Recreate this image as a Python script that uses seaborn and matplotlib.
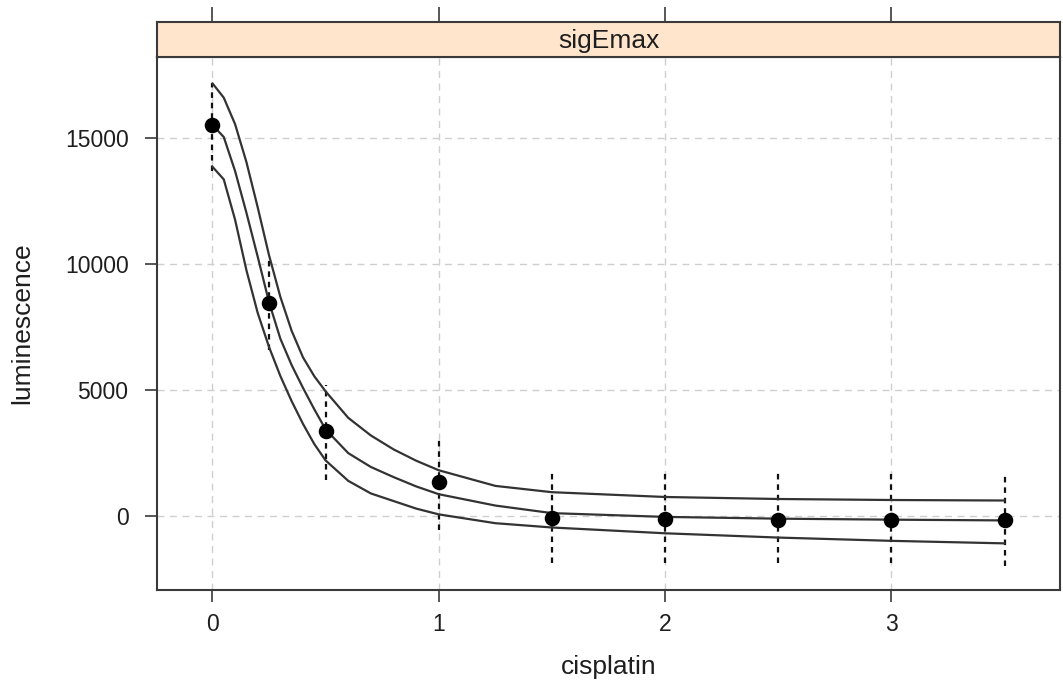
import numpy as np
import pandas as pd
import matplotlib
matplotlib.use("Agg")
import matplotlib.pyplot as plt
import seaborn as sns

# ---- data ----
dose = [0, 0.25, 0.5, 1, 1.5, 2, 2.5, 3, 3.5]
lumi = [15500, 8450, 3370, 1350, -80, -120, -160, -160, -160]
err_lo = [13700, 6600, 1430, -555, -1870, -1870, -1870, -1870, -1990]
err_hi = [17200, 10250, 5200, 3135, 1700, 1700, 1700, 1700, 1690]

curve_dose = [0, 0.05, 0.1, 0.15, 0.2, 0.25, 0.3, 0.35, 0.4, 0.45, 0.5,
              0.6, 0.7, 0.8, 0.9, 1.0, 1.25, 1.5, 2.0, 2.5, 3.0, 3.5]
curve_upper = [17170, 16600, 15550, 14050, 12250, 10350, 8700, 7350, 6300, 5550, 4950,
               3900, 3200, 2650, 2200, 1820, 1200, 950, 760, 680, 640, 620]
curve_fit = [15520, 15040, 13690, 12040, 10290, 8490, 7040, 5990, 5090, 4240, 3440,
             2500, 1950, 1550, 1180, 870, 420, 120, -30, -100, -140, -170]
curve_lower = [13860, 13360, 11760, 9760, 8060, 6710, 5560, 4560, 3660, 2860, 2210,
               1400, 900, 600, 300, 70, -280, -450, -680, -850, -980, -1080]

x_ticks = [0, 1, 2, 3]
y_ticks = [0, 5000, 10000, 15000]
panel_title = "sigEmax"
x_label = "cisplatin"
y_label = "luminescence"

# ---- style ----
sns.set_theme(style="ticks")
plt.rcParams["font.family"] = ["Liberation Sans", "DejaVu Sans"]

W, H = 1063, 689
fig = plt.figure(figsize=(W / 100, H / 100), dpi=100)
left, right, top_strip, top_panel, bottom = 157, 1060, 22, 57, 590
ax = fig.add_axes([left / W, 1 - bottom / H, (right - left) / W, (bottom - top_panel) / H])
strip = fig.add_axes([left / W, 1 - top_panel / H, (right - left) / W, (top_panel - top_strip) / H])

frame_col = "#3a3a3a"
line_col = "#333333"
text_col = "#1e1e1e"

# grid
for xv in x_ticks:
    ax.axvline(xv, color="#cfcfcf", lw=1.0, ls=(0, (5, 4)), zorder=0)
for yv in y_ticks:
    ax.axhline(yv, color="#cfcfcf", lw=1.0, ls=(0, (5, 4)), zorder=0)

# curves
curves = pd.DataFrame({
    "dose": curve_dose * 3,
    "value": curve_upper + curve_fit + curve_lower,
    "band": ["upper"] * len(curve_dose) + ["fit"] * len(curve_dose) + ["lower"] * len(curve_dose),
})
sns.lineplot(data=curves, x="dose", y="value", units="band", estimator=None,
             color=line_col, lw=1.6, ax=ax, zorder=3, sort=False)

# error bars
ax.vlines(dose, err_lo, err_hi, colors="#111111", lw=1.6, linestyles=(0, (2.5, 2.2)), zorder=2)

# points
pts = pd.DataFrame({"dose": dose, "lumi": lumi})
sns.scatterplot(data=pts, x="dose", y="lumi", color="black", s=125, edgecolor="black",
                linewidth=0, ax=ax, zorder=4)

ax.set_xlim(-0.245, 3.745)
ax.set_ylim(-2930, 18214)
ax.set_xticks(x_ticks)
ax.set_xticklabels([str(v) for v in x_ticks])
ax.set_yticks(y_ticks)
ax.set_yticklabels([str(v) for v in y_ticks])
ax.set_xlabel(x_label, fontsize=19, color=text_col, labelpad=14)
ax.set_ylabel(y_label, fontsize=19, color=text_col, labelpad=22)
ax.tick_params(axis="both", direction="out", length=8.5, width=1.2, color=frame_col,
               labelsize=16.5, labelcolor=text_col)
ax.tick_params(axis="x", pad=8, top=False)
ax.tick_params(axis="y", pad=12, right=False)
for sp in ax.spines.values():
    sp.set_visible(True)
    sp.set_color(frame_col)
    sp.set_linewidth(1.5)

# strip
strip.set_facecolor("#ffe5cc")
strip.set_xlim(ax.get_xlim())
strip.set_ylim(0, 1)
strip.set_yticks([])
strip.set_xticks(x_ticks)
strip.tick_params(axis="x", bottom=False, top=True, labelbottom=False, labeltop=False,
                  direction="out", length=11, width=1.2, color=frame_col)
for sp in strip.spines.values():
    sp.set_visible(True)
    sp.set_color(frame_col)
    sp.set_linewidth(1.5)
strip.text(0.5, 0.45, panel_title, transform=strip.transAxes, ha="center", va="center",
           fontsize=19, color=text_col)

fig.savefig("out.png", dpi=100)
